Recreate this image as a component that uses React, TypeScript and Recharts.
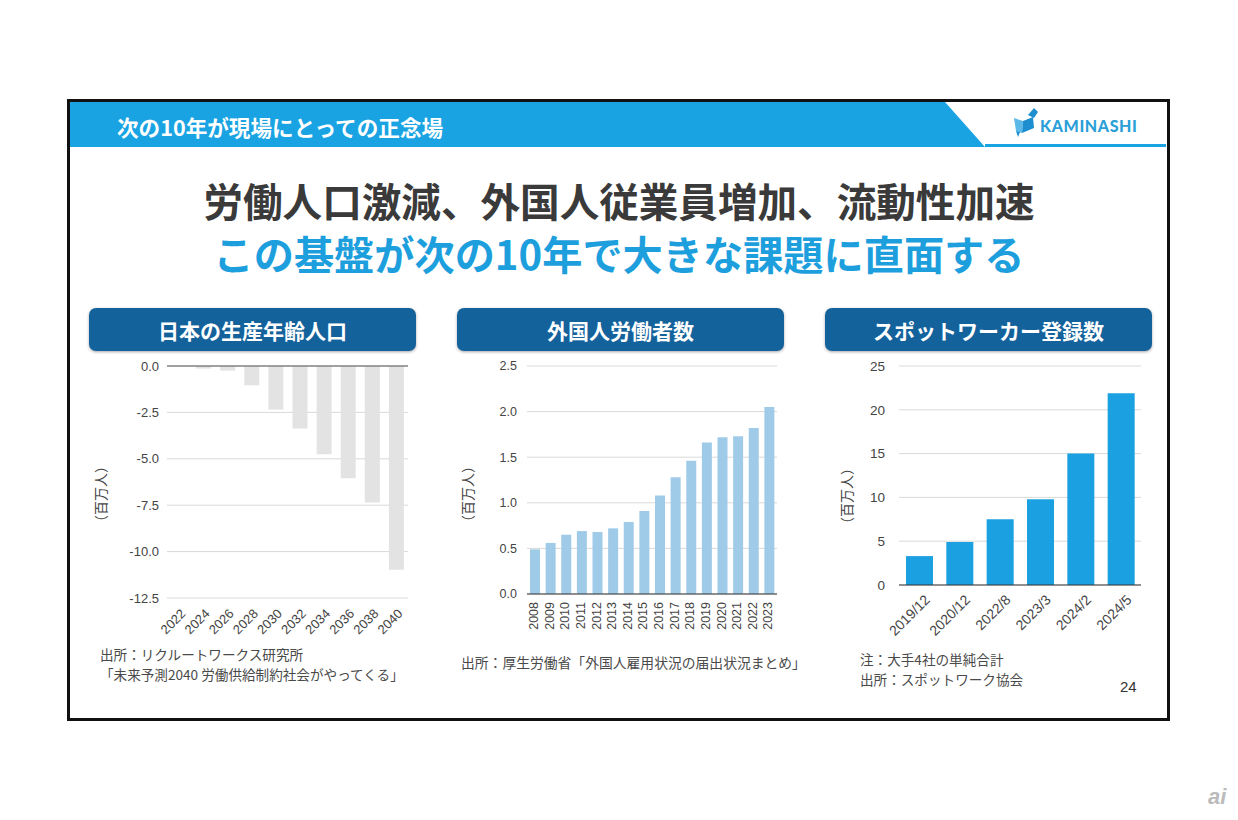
import React from 'react';
import { BarChart, Bar, XAxis, YAxis, CartesianGrid, ReferenceLine } from 'recharts';

// 日本の生産年齢人口（2022年比の増減、百万人）
const popYears = ['2022', '2024', '2026', '2028', '2030', '2032', '2034', '2036', '2038', '2040'];
const popChange = [0, -0.14, -0.25, -1.04, -2.35, -3.37, -4.75, -6.05, -7.36, -10.98];
const popTicks = [0, -2.5, -5, -7.5, -10, -12.5];

// 外国人労働者数（百万人）
const foreignYears = ['2008', '2009', '2010', '2011', '2012', '2013', '2014', '2015', '2016', '2017', '2018', '2019', '2020', '2021', '2022', '2023'];
const foreignWorkers = [0.49, 0.56, 0.65, 0.69, 0.68, 0.72, 0.79, 0.91, 1.08, 1.28, 1.46, 1.66, 1.72, 1.73, 1.82, 2.05];
const foreignTicks = [0, 0.5, 1, 1.5, 2, 2.5];

// スポットワーカー登録数（百万人）
const spotDates = ['2019/12', '2020/12', '2022/8', '2023/3', '2024/2', '2024/5'];
const spotRegistrations = [3.3, 4.9, 7.5, 9.8, 15.0, 21.9];
const spotTicks = [0, 5, 10, 15, 20, 25];

const popData = popYears.map((year, i) => ({ year, value: popChange[i] }));
const foreignData = foreignYears.map((year, i) => ({ year, value: foreignWorkers[i] }));
const spotData = spotDates.map((date, i) => ({ date, value: spotRegistrations[i] }));

const JP = '"Noto Sans CJK JP", "Noto Sans", sans-serif';
const NUM = '"Liberation Sans", Arial, sans-serif';
const tickStyle = (size: number) => ({ fontSize: size, fill: '#444', fontFamily: NUM });

const DiagTick = ({ x, y, payload, dx = 0, dy = 0, size = 13 }: any) => (
  <text
    x={x + dx}
    y={y + dy}
    transform={`rotate(-45 ${x + dx} ${y + dy})`}
    textAnchor="end"
    dominantBaseline="middle"
    fontSize={size}
    fill="#444"
    fontFamily={NUM}
  >
    {payload.value}
  </text>
);

const VertTick = ({ x, y, payload }: any) => (
  <text
    x={x}
    y={y}
    transform={`rotate(-90 ${x} ${y})`}
    textAnchor="end"
    dominantBaseline="middle"
    fontSize={12.5}
    fill="#444"
    fontFamily={NUM}
  >
    {payload.value}
  </text>
);

const PanelTitle = ({ left, text }: { left: number; text: string }) => (
  <div
    style={{
      position: 'absolute',
      left,
      top: 308,
      width: 327,
      height: 43,
      background: '#14629c',
      borderRadius: 7,
      boxShadow: '0 1px 3px rgba(0,0,0,0.35)',
      color: '#fff',
      fontFamily: JP,
      fontWeight: 700,
      fontSize: 21,
      display: 'flex',
      alignItems: 'center',
      justifyContent: 'center',
    }}
  >
    {text}
  </div>
);

const UnitLabel = ({ cx, cy }: { cx: number; cy: number }) => (
  <div
    style={{
      position: 'absolute',
      left: cx,
      top: cy,
      transform: 'translate(-50%, -50%) rotate(-90deg)',
      fontFamily: JP,
      fontSize: 14,
      color: '#444',
      whiteSpace: 'nowrap',
      lineHeight: 1,
    }}
  >
    （百万人）
  </div>
);

const Note = ({ left, top, children, size = 13.6 }: any) => (
  <div
    style={{
      position: 'absolute',
      left,
      top,
      fontFamily: JP,
      fontSize: size,
      color: '#4a4a4a',
      lineHeight: '20px',
      whiteSpace: 'nowrap',
    }}
  >
    {children}
  </div>
);

export default function App() {
  return (
    <div style={{ position: 'absolute', left: 0, top: 0, width: 1238, height: 820, background: '#fff', overflow: 'hidden' }}>
      {/* slide frame */}
      <div style={{ position: 'absolute', left: 67, top: 99, width: 1097, height: 616, border: '3px solid #111' }} />

      {/* header band */}
      <svg width={1238} height={820} style={{ position: 'absolute', left: 0, top: 0 }}>
        <polygon points="70,102 945,102 985,147 70,147" fill="#1aa3e3" />
        <rect x={985} y={144} width={181} height={3} fill="#1aa3e3" />
        {/* goat logo */}
        <polygon points="1014,118 1023,121 1022,133 1016,131" fill="#5cb8e6" />
        <polygon points="1023,121 1033,117 1034,128 1022,133" fill="#1d8fd0" />
        <polygon points="1028,115 1034,108 1038,112 1034,118" fill="#1d8fd0" />
        <polygon points="1016,131 1020,132 1018,137" fill="#1d8fd0" />
        <text x={1040} y={132} fontFamily='Lato, "Open Sans", sans-serif' fontWeight={900} fontSize={16} fill="#2a9fd8" letterSpacing={0.6}>
          KAMINASHI
        </text>
      </svg>

      <div style={{ position: 'absolute', left: 117, top: 116, fontFamily: JP, fontWeight: 700, fontSize: 21.6, color: '#fff', lineHeight: 1, whiteSpace: 'nowrap' }}>
        次の10年が現場にとっての正念場
      </div>

      <div style={{ position: 'absolute', left: 0, width: 1238, top: 180, textAlign: 'center', fontFamily: JP, fontWeight: 700, fontSize: 39.6, color: '#3a3a3a', lineHeight: 1 }}>
        労働人口激減、外国人従業員増加、流動性加速
      </div>
      <div style={{ position: 'absolute', left: 0, width: 1238, top: 233, textAlign: 'center', fontFamily: JP, fontWeight: 700, fontSize: 40.2, color: '#1e9fdd', lineHeight: 1 }}>
        この基盤が次の10年で大きな課題に直面する
      </div>

      <PanelTitle left={89} text="日本の生産年齢人口" />
      <PanelTitle left={457} text="外国人労働者数" />
      <PanelTitle left={825} text="スポットワーカー登録数" />

      {/* chart 1 */}
      <div style={{ position: 'absolute', left: 80, top: 356 }}>
        <BarChart width={340} height={290} data={popData} margin={{ top: 10, right: 12, left: 0, bottom: 0 }}>
          <CartesianGrid vertical={false} stroke="#d9d9d9" />
          <XAxis dataKey="year" axisLine={false} tickLine={false} interval={0} height={48} tick={<DiagTick dx={5} dy={6} size={13} />} />
          <YAxis
            width={87}
            domain={[-12.5, 0]}
            ticks={popTicks}
            tickFormatter={(v: number) => v.toFixed(1)}
            axisLine={false}
            tickLine={false}
            tick={tickStyle(13)}
          />
          <ReferenceLine y={0} stroke="#555" />
          <Bar dataKey="value" fill="#e3e3e3" barSize={15} isAnimationActive={false} />
        </BarChart>
      </div>
      <UnitLabel cx={100} cy={494} />

      {/* chart 2 */}
      <div style={{ position: 'absolute', left: 450, top: 356 }}>
        <BarChart width={340} height={290} data={foreignData} margin={{ top: 10, right: 13, left: 0, bottom: 0 }}>
          <CartesianGrid vertical={false} stroke="#d9d9d9" />
          <XAxis dataKey="year" axisLine={{ stroke: '#333' }} tickLine={false} interval={0} height={52} tick={<VertTick />} />
          <YAxis
            width={77}
            domain={[0, 2.5]}
            ticks={foreignTicks}
            tickFormatter={(v: number) => v.toFixed(1)}
            axisLine={false}
            tickLine={false}
            tickMargin={4}
            tick={tickStyle(12.5)}
          />
          <Bar dataKey="value" fill="#9fcbe9" barSize={10} isAnimationActive={false} />
        </BarChart>
      </div>
      <UnitLabel cx={467} cy={494} />

      {/* chart 3 */}
      <div style={{ position: 'absolute', left: 820, top: 356 }}>
        <BarChart width={340} height={290} data={spotData} margin={{ top: 10, right: 19, left: 0, bottom: 0 }}>
          <CartesianGrid vertical={false} stroke="#d9d9d9" />
          <XAxis dataKey="date" axisLine={{ stroke: '#333' }} tickLine={false} interval={0} height={61} tick={<DiagTick dx={9} dy={5} size={14} />} />
          <YAxis
            width={79}
            domain={[0, 25]}
            ticks={spotTicks}
            axisLine={false}
            tickLine={false}
            tickMargin={8}
            tick={tickStyle(13.5)}
          />
          <Bar dataKey="value" fill="#1ba1e2" barSize={27} isAnimationActive={false} />
        </BarChart>
      </div>
      <UnitLabel cx={846} cy={496} />

      {/* notes */}
      <Note left={100} top={644}>
        出所：リクルートワークス研究所
        <br />
        「未来予測2040 労働供給制約社会がやってくる」
      </Note>
      <Note left={461} top={652} size={13.8}>出所：厚生労働省「外国人雇用状況の届出状況まとめ」</Note>
      <Note left={860} top={649}>
        注：大手4社の単純合計
        <br />
        出所：スポットワーク協会
      </Note>
      <div style={{ position: 'absolute', left: 1120, top: 679, fontFamily: NUM, fontSize: 15, color: '#333', lineHeight: 1 }}>24</div>

      <div style={{ position: 'absolute', left: 1208, top: 786, fontFamily: NUM, fontStyle: 'italic', fontWeight: 700, fontSize: 22, color: '#bbb', lineHeight: 1 }}>ai</div>
    </div>
  );
}
